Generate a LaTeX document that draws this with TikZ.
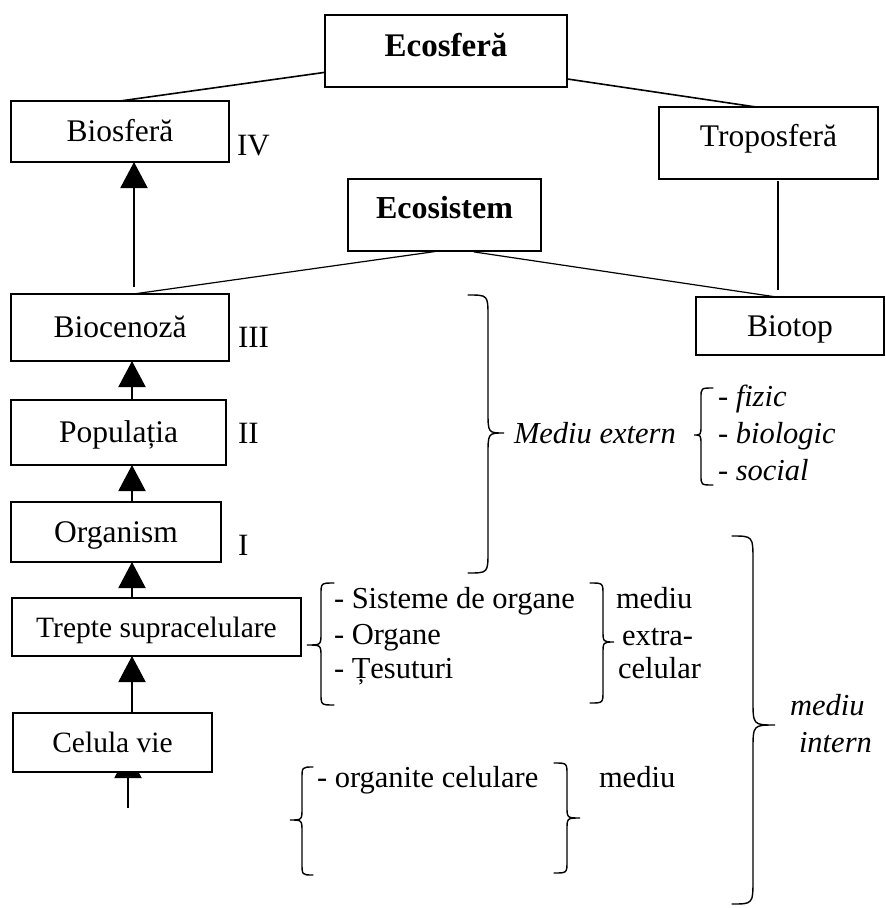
\documentclass[tikz,border=0pt]{standalone}
\usepackage{fontspec}
\setmainfont{Liberation Serif}
\usetikzlibrary{arrows.meta}
\newcommand{\drawbrace}[7]{\draw[bracestyle] (#1,#4) .. controls (#2,#4) .. (#2,#4+#7) -- (#2,#5-#7) .. controls (#2,#5) .. (#3,#5) .. controls (#2,#5) .. (#2,#5+#7) -- (#2,#6-#7) .. controls (#2,#6) .. (#1,#6);}
\begin{document}
\begin{tikzpicture}[x=1pt,y=-1pt,
  box/.style={draw, line width=2pt, inner sep=0pt, outer sep=0pt, text height=20.5pt, text depth=0pt, font=\fontsize{31.5}{36}\selectfont},
  lab/.style={inner sep=0pt, outer sep=0pt, text height=20.5pt, text depth=0pt, font=\fontsize{31}{36}\selectfont, anchor=west},
  txt/.style={inner sep=0pt, outer sep=0pt, font=\fontsize{30.5}{36}\selectfont, anchor=base west},
  conn/.style={line width=1.6pt},
  thinconn/.style={line width=1.2pt},
  vline/.style={line width=2pt},
  arr/.style={line width=2pt, -{Triangle[width=27pt,length=26pt]}},
  bracestyle/.style={line width=1.4pt, line cap=round}]
\useasboundingbox (0,0) rectangle (886,908);

% boxes
\node[box, minimum width=242pt, minimum height=72pt, text depth=9pt, font=\fontsize{33}{38}\selectfont\bfseries] (ecosfera) at (446,51) {Ecosferă};
\node[box, minimum width=218pt, minimum height=61pt] (biosfera) at (120,131.5) {Biosferă};
\node[box, minimum width=219pt, minimum height=72pt, text depth=14pt] (tropos) at (768.5,143) {Troposferă};
\node[box, minimum width=193pt, minimum height=72pt, text depth=14pt, font=\fontsize{32}{37}\selectfont\bfseries] (ecosis) at (444.5,215) {Ecosistem};
\node[box, minimum width=218pt, minimum height=67pt] (biocen) at (120,327.5) {Biocenoză};
\node[box, minimum width=188pt, minimum height=58pt] (biotop) at (790,326) {Biotop};
\node[box, minimum width=215pt, minimum height=65pt] (popul) at (118.5,432.5) {Populația};
\node[box, minimum width=210pt, minimum height=60pt] (organism) at (116,532) {Organism};
\node[box, minimum width=289pt, minimum height=58pt, font=\fontsize{29.5}{34}\selectfont] (trepte) at (156.5,627) {Trepte supracelulare};

% arrow entering the living cell from below (its head is hidden by the box)
\coordinate (cin) at (128,752);
\coordinate (cbot) at (128,808);
\draw[arr] (cbot) -- (cin);
\node[box, fill=white, minimum width=199pt, minimum height=59pt, font=\fontsize{29.5}{34}\selectfont] (celula) at (112.5,742.5) {Celula vie};

% roman numerals
\node[lab] (n4) at (237,145.5) {IV};
\node[lab] (n3) at (238,337) {III};
\node[lab] (n2) at (238,433) {II};
\node[lab] (n1) at (238,545) {I};

% helper x positions
\coordinate (ax) at (132,0);
\coordinate (bx) at (134,0);
\coordinate (tx) at (778,0);

% connectors
\draw[conn] (ecosfera.190.8) -- (biosfera.north);
\draw[conn] (ecosfera.347) -- (tropos.109);
\draw[thinconn, shorten <=4pt] (ecosis.261.3) -- (biocen.68.8);
\draw[thinconn, shorten <=6pt] (ecosis.303.1) -- (biotop.115.8);
\draw[vline, shorten <=2pt, shorten >=7pt] (tropos.south -| tx) -- (biotop.north -| tx);

% arrows
\draw[arr, shorten <=7pt] (biocen.north -| bx) -- (biosfera.south -| bx);
\draw[arr] (popul.north -| ax) -- (biocen.south -| ax);
\draw[arr] (organism.north -| ax) -- (popul.south -| ax);
\draw[arr] (trepte.north -| ax) -- (organism.south -| ax);
\draw[arr] (celula.north -| ax) -- (trepte.south -| ax);

% texts
\node[txt] (medext) at (514,443) {\itshape Mediu extern};
\node[txt] (fizic) at (718,406) {\itshape - fizic};
\node[txt] (biologic) at (718,443) {\itshape - biologic};
\node[txt] (social) at (718,480) {\itshape - social};

\node[txt] (sist) at (334,608) {- Sisteme de organe};
\node[txt] (organe) at (334,644) {- Organe};
\node[txt] (tes) at (334,678) {- Țesuturi};
\node[txt] (med1) at (616,608) {mediu};
\node[txt] (extra) at (622,645) {extra-};
\node[txt] (celular) at (618,678) {celular};

\node[txt] (organite) at (317,787) {- organite celulare};
\node[txt] (med2) at (599,787) {mediu};

\node[txt] (medint1) at (790,715) {\itshape mediu};
\node[txt] (medint2) at (799,752) {\itshape intern};

% braces
\drawbrace{468}{488}{504}{295}{433}{573}{22}
\drawbrace{732}{753}{775}{536}{725}{904}{25}
\drawbrace{713}{701}{694}{388}{435}{485}{10}
\drawbrace{334}{321}{307}{583}{645}{705}{12}
\drawbrace{590}{603}{614}{583}{642}{703}{12}
\drawbrace{313}{302}{290}{767}{820}{875}{12}
\drawbrace{554}{567}{580}{763}{818}{873}{12}
\end{tikzpicture}
\end{document}
